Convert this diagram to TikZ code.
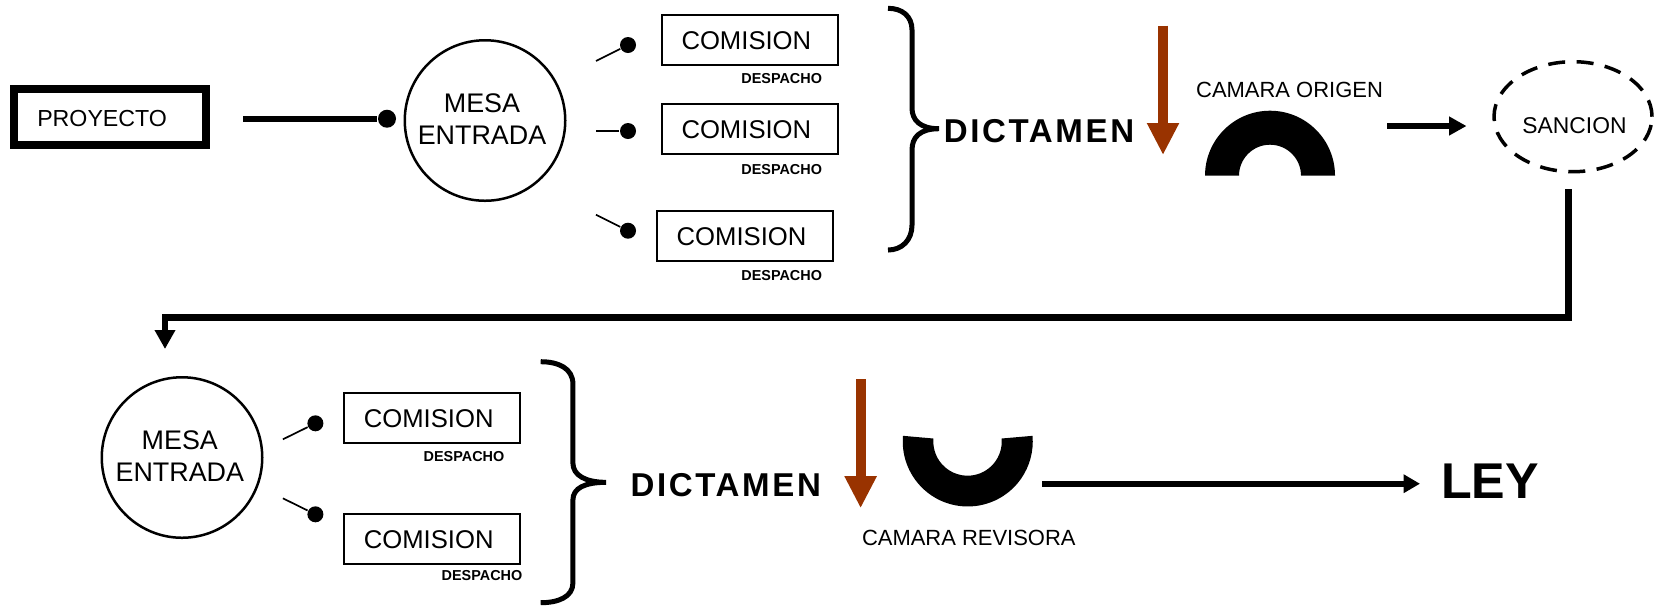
\documentclass[tikz,border=0pt]{standalone}
\usepackage{fontspec}
\setmainfont{Liberation Sans}
\newfontfamily\dictfont[LetterSpace=8.0]{Liberation Sans}
\usetikzlibrary{calc,positioning,shapes,arrows.meta}
\definecolor{flecha}{HTML}{993300}

\begin{document}
\begin{tikzpicture}[x=1cm,y=1cm,
    comision/.style={draw,line width=0.02cm,minimum height=0.5cm,text width=1.36cm,text height=0.195cm,inner xsep=0.2cm,inner ysep=0pt,align=left,font=\fontsize{7.3}{9}\selectfont},
    mesa/.style={draw,circle,line width=0.025cm,minimum size=1.605cm,inner sep=0pt},
    mesatxt/.style={align=center,inner sep=0pt,font=\fontsize{7.65}{9.1}\selectfont},
    despacho/.style={inner sep=0pt,font=\fontsize{4.1}{5}\selectfont\bfseries},
    dictamen/.style={inner sep=0pt,font=\fontsize{9.4}{11}\dictfont\bfseries},
    camara/.style={inner sep=0pt,font=\fontsize{6.25}{8}\selectfont},
    bola/.style={circle,fill=black,inner sep=0pt,minimum size=0.16cm},
    palito/.style={line width=0.017cm},
    llave/.style={line width=0.05cm},
    marron/.style={draw=flecha,line width=0.1cm,-{Triangle[length=0.32cm,width=0.3cm,fill=flecha]}},
    negra/.style={line width=0.065cm,-{Triangle[length=0.175cm,width=0.18cm]}}]
    \useasboundingbox (0,0) rectangle (16.55,-6.05);
    % primera fila
    \node[draw,line width=0.08cm,minimum height=0.565cm,text width=1.455cm,text height=0.19cm,inner xsep=0.236cm,inner ysep=0pt,align=left,font=\fontsize{6.6}{8}\selectfont] (proyecto) at (1.1,-1.168) {PROYECTO};
    \coordinate (proy1) at (2.43,-1.187);
    \node[bola,minimum size=0.18cm] (bola0) at (3.87,-1.187) {};
    \draw[line width=0.06cm] (proy1) -- (bola0);
    \node[mesa] (mesa1) at (4.85,-1.205) {};
    \node[mesatxt] (mesa1txt) at (4.82,-1.19) {MESA\\ENTRADA};
    \coordinate (c1) at (5.96,-0.61);
    \coordinate (c2) at (5.96,-1.31);
    \coordinate (c3) at (5.96,-2.147);
    \node[bola] (bola1) at (6.28,-0.45) {};
    \node[bola] (bola2) at (6.28,-1.31) {};
    \node[bola] (bola3) at (6.28,-2.307) {};
    \draw[palito] (c1) -- (bola1);
    \draw[palito] (c2) -- (bola2);
    \draw[palito] (c3) -- (bola3);
    \node[comision] (com1) at (7.495,-0.397) {COMISION};
    \node[comision] (com2) at (7.495,-1.285) {COMISION};
    \node[comision] (com3) at (7.447,-2.362) {COMISION};
    \node[despacho] (desp1) at (7.817,-0.783) {DESPACHO};
    \node[despacho] (desp2) at (7.817,-1.693) {DESPACHO};
    \node[despacho] (desp3) at (7.817,-2.753) {DESPACHO};
    \draw[llave] (8.88,-0.083) .. controls (9.02,-0.083) and (9.12,-0.16) .. (9.12,-0.3) -- (9.12,-1.08) .. controls (9.12,-1.2) and (9.2,-1.287) .. (9.39,-1.287) .. controls (9.2,-1.287) and (9.12,-1.37) .. (9.12,-1.5) -- (9.12,-2.25) .. controls (9.12,-2.4) and (9.02,-2.5) .. (8.88,-2.5);
    \node[dictamen] (dict1) at (10.39,-1.307) {DICTAMEN};
    \coordinate (fl1a) at (11.63,-0.257);
    \coordinate (fl1b) at (11.63,-1.55);
    \draw[marron] (fl1a) -- (fl1b);
    \node[camara] (origen) at (12.895,-0.9) {CAMARA ORIGEN};
    \fill (12.05,-1.757) arc[start angle=180,delta angle=-180,radius=0.65] -- (13.01,-1.757) arc[start angle=0,delta angle=180,radius=0.31] -- cycle;
    \coordinate (fl2a) at (13.874,-1.26);
    \node[draw,ellipse,dash pattern=on 0.17cm off 0.115cm,line width=0.035cm,minimum width=1.58cm,minimum height=1.1cm,inner sep=0pt] (sancion) at (15.73,-1.167) {};
    \node[camara,font=\fontsize{6.5}{8}\selectfont] (sanciontxt) at (15.745,-1.255) {SANCION};
    \coordinate (fl2b) at (14.665,-1.26);
    \draw[negra] (fl2a) -- (fl2b);
    % vuelta
    \coordinate (sanc1) at (15.685,-1.893);
    \coordinate (vuelta) at (1.65,-3.173);
    \coordinate (mesa2top) at (1.65,-3.49);
    \draw[line width=0.065cm,-{Triangle[length=0.19cm,width=0.196cm]}] (sanc1) |- (vuelta) -- (mesa2top);
    % segunda fila
    \node[mesa] (mesa2) at (1.82,-4.575) {};
    \node[mesatxt] (mesa2txt) at (1.798,-4.565) {MESA\\ENTRADA};
    \coordinate (c4) at (2.829,-4.393);
    \coordinate (c5) at (2.829,-4.983);
    \node[bola] (bola4) at (3.154,-4.233) {};
    \node[bola] (bola5) at (3.154,-5.143) {};
    \draw[palito] (c4) -- (bola4);
    \draw[palito] (c5) -- (bola5);
    \node[comision] (com4) at (4.318,-4.175) {COMISION};
    \node[comision] (com5) at (4.318,-5.385) {COMISION};
    \node[despacho] (desp4) at (4.64,-4.563) {DESPACHO};
    \node[despacho] (desp5) at (4.82,-5.753) {DESPACHO};
    \draw[llave] (5.407,-3.617) .. controls (5.58,-3.617) and (5.729,-3.68) .. (5.729,-3.84) -- (5.729,-4.63) .. controls (5.729,-4.75) and (5.85,-4.823) .. (6.06,-4.823) .. controls (5.85,-4.823) and (5.729,-4.88) .. (5.729,-5.0) -- (5.729,-5.83) .. controls (5.729,-5.97) and (5.58,-6.027) .. (5.407,-6.027);
    \node[dictamen] (dict2) at (7.257,-4.85) {DICTAMEN};
    \coordinate (fl3a) at (8.606,-3.79);
    \coordinate (fl3b) at (8.606,-5.082);
    \draw[marron] (fl3a) -- (fl3b);
    \fill (9.03,-4.358) arc[start angle=175,delta angle=190,radius=0.65] -- (10.016,-4.385) arc[start angle=365,delta angle=-190,radius=0.342] -- cycle;
    \node[camara] (revisora) at (9.688,-5.377) {CAMARA REVISORA};
    \coordinate (fl4a) at (10.424,-4.837);
    \node[inner sep=0pt,font=\fontsize{14.3}{16}\selectfont\bfseries] (ley) at (14.9,-4.807) {LEY};
    \coordinate (fl4b) at (14.2,-4.837);
    \draw[line width=0.06cm,-{Triangle[length=0.164cm,width=0.177cm]}] (fl4a) -- (fl4b);
  \end{tikzpicture}
\end{document}
